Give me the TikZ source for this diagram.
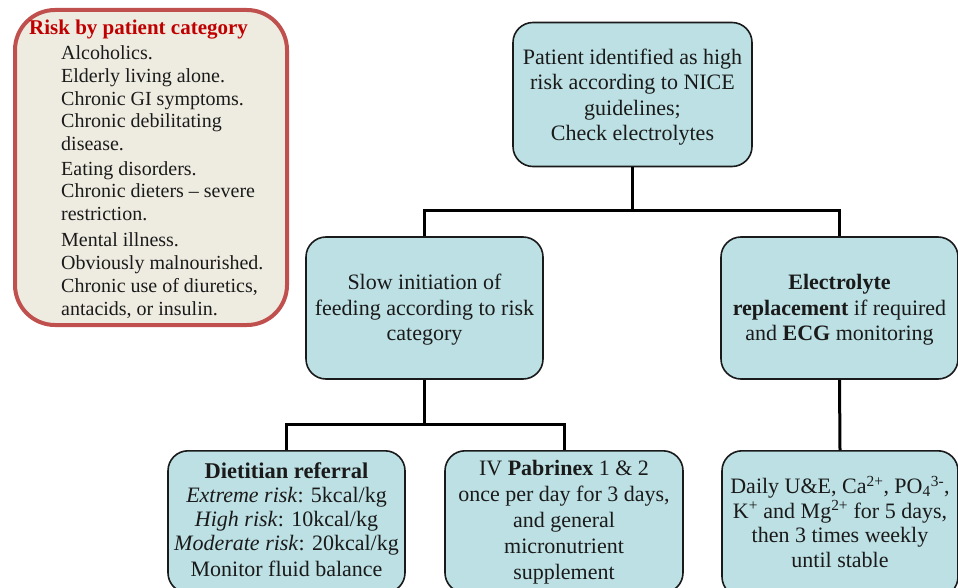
\documentclass[tikz,border=0pt]{standalone}
\usepackage{fontspec}
\setmainfont{Liberation Serif}
\definecolor{boxfill}{HTML}{BCE0E3}
\definecolor{riskfill}{HTML}{EEECE1}
\definecolor{riskline}{HTML}{C0504D}
\definecolor{titlered}{HTML}{C00000}
\definecolor{ink}{HTML}{1A1A1A}
\begin{document}
\begin{tikzpicture}[x=1pt,y=-1pt,
  flowbox/.style={draw=ink, line width=1.6pt, fill=boxfill, rounded corners=20pt,
    align=center, inner sep=0pt, text=ink, font=\fontsize{22}{25.5}\selectfont},
  link/.style={line width=3pt, draw=black},
  riskbox/.style={draw=riskline, line width=4pt, fill=riskfill, rounded corners=40pt, inner sep=0pt}]
\useasboundingbox (0,0) rectangle (958,588);

% risk box
\node[riskbox, minimum width=272, minimum height=315] (risk) at (151,167.5) {};
\node[anchor=west, inner sep=0pt, text=titlered, font=\fontsize{21}{24}\selectfont\bfseries] (risktitle) at (29,29.5) {Risk by patient category};
\node[anchor=north west, inner sep=0pt, align=left, text=ink, font=\fontsize{20}{22.8}\selectfont] (risklist) at (61,45.5)
{Alcoholics.\\
Elderly living alone.\\
Chronic GI symptoms.\\
Chronic debilitating\\
disease.\\[1.5pt]
Eating disorders.\\
Chronic dieters -- severe\\
restriction.\\[3.5pt]
Mental illness.\\
Obviously malnourished.\\
Chronic use of diuretics,\\
antacids, or insulin.};

% flow boxes
\node[flowbox, minimum width=239, minimum height=144] (top) at (632.5,94.5)
{Patient identified as high\\risk according to NICE\\guidelines;\\Check electrolytes\vspace*{-5pt}};
\node[flowbox, minimum width=237, minimum height=142] (midL) at (424.5,308)
{Slow initiation of\\feeding according to risk\\category\vspace*{-4pt}};
\node[flowbox, minimum width=237, minimum height=142] (midR) at (839.5,308)
{\textbf{Electrolyte}\\\textbf{replacement} if required\\and \textbf{ECG} monitoring\vspace*{-4pt}};
\node[flowbox, anchor=north, minimum width=237, minimum height=142] (botL) at (286.5,450)
{{\fontsize{22.5}{25}\selectfont\bfseries Dietitian referral}\\[-1.5pt]
\textit{Extreme risk}: 5kcal/kg\\[-1.5pt]
\textit{High risk}: 10kcal/kg\\[-1.5pt]
\textit{Moderate risk}: 20kcal/kg\\[1pt]
Monitor fluid balance\vspace*{4pt}};
\node[flowbox, anchor=north, minimum width=238, minimum height=142] (botM) at (564,450)
{IV \textbf{Pabrinex} 1 \& 2\\[0.5pt]once per day for 3 days,\\[0.5pt]and general\\[0.5pt]micronutrient\\[0.5pt]supplement};
\node[flowbox, anchor=north, minimum width=236, minimum height=146] (botR) at (840,450)
{Daily U\&E, Ca\textsuperscript{2+}, PO\textsubscript{4}\textsuperscript{3-},\\[-1pt]K\textsuperscript{+} and Mg\textsuperscript{2+} for 5 days,\\[-1pt]then 3 times weekly\\[-1pt]until stable\vspace*{4pt}};

% connectors
\coordinate (j1) at (632.5,211);
\coordinate (j2) at (424.5,424);
\draw[link] (top.south) -- (j1);
\draw[link] (midL.north) |- (j1) -| (midR.north);
\draw[link] (midL.south) -- (j2);
\draw[link] (botL.north) |- (j2) -| (botM.north);
\draw[link] (midR.south) -- (botR.north);
\end{tikzpicture}
\end{document}
